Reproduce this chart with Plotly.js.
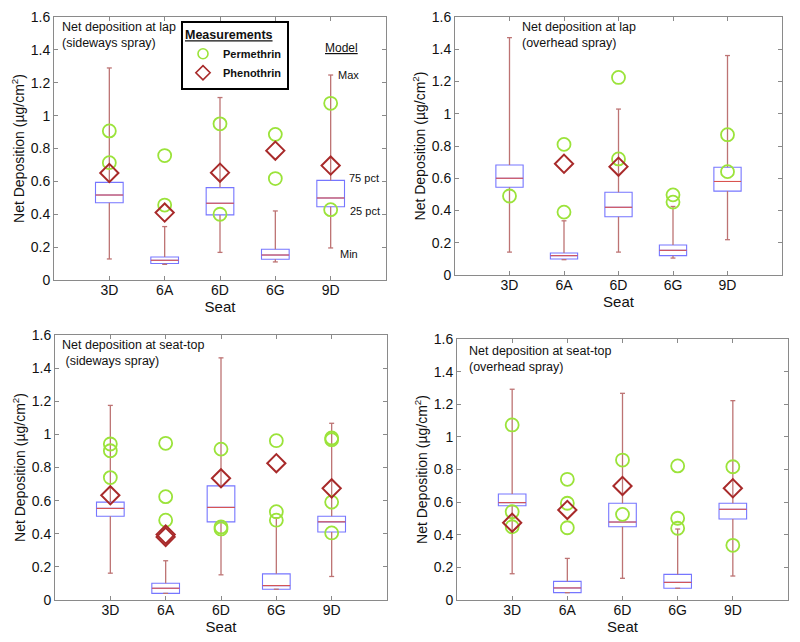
<!DOCTYPE html>
<html>
<head>
<meta charset="utf-8">
<script src="https://cdn.plot.ly/plotly-3.0.1.min.js"></script>
<style>html,body{margin:0;padding:0;background:#fff;}#chart{width:800px;height:642px;}</style>
</head>
<body>
<div id="chart"></div>
<script>
// Categories
const seats = ['3D', '6A', '6D', '6G', '9D'];

// Panel 1: lap, sideways spray (model box stats)
const lapSideMax = [1.29, 0.325, 1.11, 0.42, 1.247];
const lapSideQ3  = [0.594, 0.14, 0.562, 0.187, 0.606];
const lapSideMed = [0.517, 0.12, 0.467, 0.152, 0.499];
const lapSideQ1  = [0.47, 0.10, 0.396, 0.126, 0.446];
const lapSideMin = [0.128, 0.095, 0.168, 0.11, 0.195];
const lapSidePerm = [[0.907, 0.714], [0.757, 0.456], [0.95, 0.40], [0.886, 0.617], [1.075, 0.428]];
const lapSidePhen = [[0.651], [0.41], [0.653], [0.787], [0.696]];

// Panel 2: lap, overhead spray
const lapOverMax = [1.472, 0.336, 1.029, 0.425, 1.361];
const lapOverQ3  = [0.682, 0.136, 0.513, 0.186, 0.668];
const lapOverMed = [0.60, 0.12, 0.42, 0.153, 0.58];
const lapOverQ1  = [0.544, 0.099, 0.361, 0.12, 0.52];
const lapOverMin = [0.142, 0.095, 0.142, 0.105, 0.219];
const lapOverPerm = [[0.49], [0.81, 0.39], [1.225, 0.72], [0.497, 0.452], [0.87, 0.641]];
const lapOverPhen = [[], [0.69], [0.672], [], []];

// Panel 3: seat-top, sideways spray
const seatSideMax = [1.175, 0.237, 1.462, 0.496, 1.067];
const seatSideQ3  = [0.591, 0.101, 0.689, 0.158, 0.506];
const seatSideMed = [0.553, 0.071, 0.559, 0.087, 0.472];
const seatSideQ1  = [0.506, 0.04, 0.472, 0.065, 0.411];
const seatSideMin = [0.162, 0.04, 0.152, 0.065, 0.142];
const seatSidePerm = [[0.942, 0.901, 0.739], [0.946, 0.624, 0.482], [0.911, 0.441, 0.429], [0.962, 0.533, 0.482], [0.978, 0.968, 0.591, 0.405]];
const seatSidePhen = [[0.632], [0.395, 0.381], [0.735], [0.826], [0.674]];

// Panel 4: seat-top, overhead spray
const seatOverMax = [1.292, 0.255, 1.267, 0.435, 1.222];
const seatOverQ3  = [0.65, 0.114, 0.593, 0.157, 0.593];
const seatOverMed = [0.597, 0.074, 0.478, 0.108, 0.556];
const seatOverQ1  = [0.578, 0.045, 0.449, 0.072, 0.497];
const seatOverMin = [0.161, 0.045, 0.133, 0.072, 0.147];
const seatOverPerm = [[1.073, 0.541, 0.449], [0.74, 0.593, 0.443], [0.858, 0.525], [0.822, 0.501, 0.44], [0.817, 0.335]];
const seatOverPhen = [[0.474], [0.552], [0.699], [], [0.685]];

const panelTitles = [
  'Net deposition at lap<br>(sideways spray)',
  'Net deposition at lap<br>(overhead spray)',
  'Net deposition at seat-top<br> (sideways spray)',
  'Net deposition at seat-top<br>(overhead spray)'
];

const FONT = 'Liberation Sans, Arial, Helvetica, sans-serif';
const BOX_C = '#7676ff';
const MED_C = '#d9534f';
const WHISK_C = '#bd7373';
const PERM_C = '#9be33a';
const PHEN_C = '#a82a2a';
const AX_C = '#8a8a8a';

const pos = seats.map((s, i) => i + 1);
const HALF = 0.25, CAP = 0.045;

function panelTraces(k, mx, q3, md, q1, mn, perm, phen) {
  const xa = k === 1 ? 'x' : 'x' + k, ya = k === 1 ? 'y' : 'y' + k;
  const traces = [];
  traces.push({
    type: 'box', x: pos, q1: q1, median: md, q3: q3, lowerfence: q1, upperfence: q3,
    width: 2 * HALF, boxpoints: false, line: {color: BOX_C, width: 1.1},
    fillcolor: 'rgba(255,255,255,0)', xaxis: xa, yaxis: ya, showlegend: false, hoverinfo: 'skip'
  });
  const wx = [], wy = [], cx = [], cy = [], mxs = [], mys = [];
  pos.forEach((p, i) => {
    wx.push(p, p, null, p, p, null); wy.push(mn[i], q1[i], null, q3[i], mx[i], null);
    cx.push(p - CAP, p + CAP, null, p - CAP, p + CAP, null); cy.push(mn[i], mn[i], null, mx[i], mx[i], null);
    mxs.push(p - HALF, p + HALF, null); mys.push(md[i], md[i], null);
  });
  traces.push({type: 'scatter', mode: 'lines', x: wx, y: wy, line: {color: WHISK_C, width: 1.3}, xaxis: xa, yaxis: ya, showlegend: false, hoverinfo: 'skip'});
  traces.push({type: 'scatter', mode: 'lines', x: cx, y: cy, line: {color: WHISK_C, width: 1.3}, xaxis: xa, yaxis: ya, showlegend: false, hoverinfo: 'skip'});
  traces.push({type: 'scatter', mode: 'lines', x: mxs, y: mys, line: {color: MED_C, width: 1.1}, xaxis: xa, yaxis: ya, showlegend: false, hoverinfo: 'skip'});
  const px = [], py = [], dx = [], dy = [];
  perm.forEach((arr, i) => arr.forEach(v => { px.push(pos[i]); py.push(v); }));
  phen.forEach((arr, i) => arr.forEach(v => { dx.push(pos[i]); dy.push(v); }));
  traces.push({type: 'scatter', mode: 'markers', name: 'Permethrin', legendgroup: 'perm', x: px, y: py,
    marker: {symbol: 'circle-open', size: 13, color: PERM_C, line: {width: 1.8, color: PERM_C}},
    xaxis: xa, yaxis: ya, showlegend: false});
  traces.push({type: 'scatter', mode: 'markers', name: 'Phenothrin', legendgroup: 'phen', x: dx, y: dy,
    marker: {symbol: 'diamond-open', size: 14, color: PHEN_C, line: {width: 2, color: PHEN_C}},
    xaxis: xa, yaxis: ya, showlegend: false});
  return traces;
}

// Legend entries (no data drawn; only the legend symbols, which are smaller in the reference)
const legendTraces = [
  {type: 'scatter', mode: 'markers', name: 'Permethrin', legendgroup: 'perm', x: [null], y: [null],
    marker: {symbol: 'circle-open', size: 10, color: PERM_C, line: {width: 1.6, color: PERM_C}}, showlegend: true},
  {type: 'scatter', mode: 'markers', name: 'Phenothrin', legendgroup: 'phen', x: [null], y: [null],
    marker: {symbol: 'diamond-open', size: 11, color: PHEN_C, line: {width: 1.6, color: PHEN_C}}, showlegend: true}
];

const data = [].concat(
  panelTraces(1, lapSideMax, lapSideQ3, lapSideMed, lapSideQ1, lapSideMin, lapSidePerm, lapSidePhen),
  panelTraces(2, lapOverMax, lapOverQ3, lapOverMed, lapOverQ1, lapOverMin, lapOverPerm, lapOverPhen),
  panelTraces(3, seatSideMax, seatSideQ3, seatSideMed, seatSideQ1, seatSideMin, seatSidePerm, seatSidePhen),
  panelTraces(4, seatOverMax, seatOverQ3, seatOverMed, seatOverQ1, seatOverMin, seatOverPerm, seatOverPhen),
  legendTraces
);

function xAxis(domain, anchor) {
  return {domain: domain, anchor: anchor, range: [0, 6], tickvals: pos, ticktext: seats,
    showline: true, mirror: 'ticks', linecolor: AX_C, linewidth: 1, ticks: 'inside', ticklen: 4,
    tickcolor: AX_C, showgrid: false, zeroline: false, fixedrange: true, ticklabelstandoff: -3,
    tickfont: {family: FONT, size: 14, color: '#111'},
    title: {text: 'Seat', font: {family: FONT, size: 15, color: '#111'}, standoff: 0}};
}
function yAxis(domain, anchor) {
  return {domain: domain, anchor: anchor, range: [0, 1.6], dtick: 0.2, tick0: 0,
    showline: true, mirror: 'ticks', linecolor: AX_C, linewidth: 1, ticks: 'inside', ticklen: 4,
    tickcolor: AX_C, showgrid: false, zeroline: false, fixedrange: true,
    tickfont: {family: FONT, size: 14, color: '#111'},
    title: {text: 'Net Deposition (\u00b5g/cm<sup>2</sup>)', font: {family: FONT, size: 14, color: '#111'}, standoff: 2}};
}
const H = 642, W = 800;
const yd = (top, bot) => [1 - bot / H, 1 - top / H];
const xd = (l, r) => [l / W, r / W];

const annFont = {family: FONT, size: 12.5, color: '#111'};
const smallFont = {family: FONT, size: 11, color: '#111'};
const annotations = [
  {xref: 'x domain', yref: 'y domain', x: 0.018, y: 0.995, xanchor: 'left', yanchor: 'top', align: 'left', showarrow: false, text: panelTitles[0], font: annFont},
  {xref: 'x2 domain', yref: 'y2 domain', x: 0.2, y: 0.995, xanchor: 'left', yanchor: 'top', align: 'left', showarrow: false, text: panelTitles[1], font: annFont},
  {xref: 'x3 domain', yref: 'y3 domain', x: 0.015, y: 0.995, xanchor: 'left', yanchor: 'top', align: 'left', showarrow: false, text: panelTitles[2], font: annFont},
  {xref: 'x4 domain', yref: 'y4 domain', x: 0.03, y: 0.99, xanchor: 'left', yanchor: 'top', align: 'left', showarrow: false, text: panelTitles[3], font: annFont},
  {xref: 'x', yref: 'y', x: 5.2, y: 1.41, xanchor: 'center', yanchor: 'middle', showarrow: false, text: 'Model', font: {family: FONT, size: 12, color: '#111', lineposition: 'under'}},
  {xref: 'x', yref: 'y', x: 5.1, y: lapSideMax[4], xanchor: 'left', yanchor: 'middle', showarrow: false, text: 'Max', font: smallFont},
  {xref: 'x', yref: 'y', x: 5.3, y: lapSideQ3[4], yshift: 2, xanchor: 'left', yanchor: 'middle', showarrow: false, text: '75 pct', font: smallFont},
  {xref: 'x', yref: 'y', x: 5.31, y: lapSideQ1[4], yshift: -4, xanchor: 'left', yanchor: 'middle', showarrow: false, text: '25 pct', font: smallFont},
  {xref: 'x', yref: 'y', x: 5.13, y: lapSideMin[4], yshift: -6, xanchor: 'left', yanchor: 'middle', showarrow: false, text: 'Min', font: smallFont}
];

const layout = {
  width: W, height: H, margin: {l: 0, r: 0, t: 0, b: 0},
  paper_bgcolor: '#fff', plot_bgcolor: '#fff',
  font: {family: FONT, color: '#111'},
  xaxis: xAxis(xd(54, 386), 'y'), yaxis: yAxis(yd(17, 280), 'x'),
  xaxis2: xAxis(xd(455, 782), 'y2'), yaxis2: yAxis(yd(17, 275), 'x2'),
  xaxis3: xAxis(xd(55, 387), 'y3'), yaxis3: yAxis(yd(335, 600), 'x3'),
  xaxis4: xAxis(xd(457, 788), 'y4'), yaxis4: yAxis(yd(339, 600), 'x4'),
  showlegend: true,
  legend: {x: 181 / W, y: 1 - 21 / H, xanchor: 'left', yanchor: 'top',
    bgcolor: '#fff', bordercolor: '#000', borderwidth: 2, itemwidth: 30, itemsizing: 'trace',
    font: {family: FONT, size: 11, color: '#111', weight: 700},
    title: {text: 'Measurements', side: 'top', font: {family: FONT, size: 12.5, color: '#111', lineposition: 'under'}},
    tracegroupgap: 0},
  annotations: annotations
};

Plotly.newPlot('chart', data, layout, {displayModeBar: false, staticPlot: true});
</script>
</body>
</html>
